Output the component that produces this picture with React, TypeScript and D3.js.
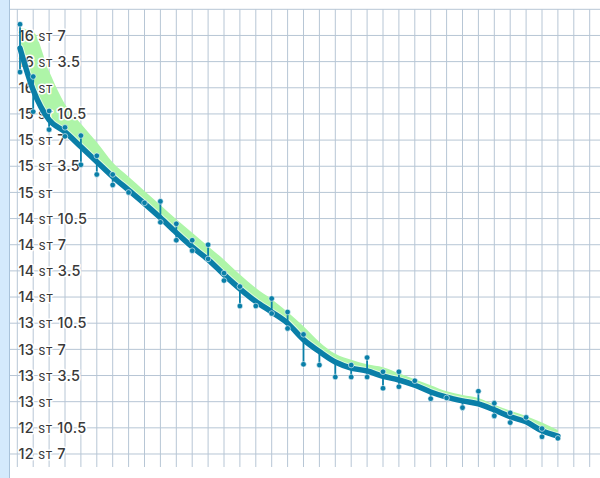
import React, { useEffect, useRef } from 'react';
import * as d3 from 'd3';

// day index (grid column) of each weigh-in day
const days = [0.17, 1, 2, 3, 4, 5, 6, 7, 8, 9, 10, 11, 12, 13, 14, 15, 16, 17, 18, 19, 20, 21, 22, 23, 24, 25, 26, 27, 28, 29, 30, 31, 32, 33, 34];

// smoothed trend weight (lb)
const trendLbs = [229.3, 223.7, 219.7, 218.1, 216.1, 214.1, 212.1, 210.3, 208.5, 206.6, 204.6, 202.7, 201.0, 199.0, 197.1, 195.4, 194.0, 192.5, 190.3, 188.7, 187.3, 186.5, 186.1, 185.4, 184.9, 184.2, 183.3, 182.6, 182.1, 181.7, 180.9, 180.0, 179.3, 178.1, 177.4];

// upper edge of the green band (lb)
const bandTopLbs = [232.0, 231.5, 226.2, 221.8, 219.2, 216.7, 214.0, 212.1, 210.2, 208.3, 206.4, 204.6, 202.8, 201.0, 199.0, 197.2, 195.7, 194.0, 192.1, 190.0, 188.4, 187.6, 187.0, 186.6, 185.8, 185.0, 184.2, 183.4, 182.9, 182.5, 181.6, 180.8, 180.1, 179.2, 178.2];

// weigh-ins (lb); second one is null when only one reading that day
const firstWeighIn = [232.5, 225.5, 220.9, 218.7, 217.6, 214.9, 212.4, 210.0, 208.6, 208.8, 205.8, 203.6, 203.0, 199.2, 197.4, 194.8, 195.8, 194.0, 191.0, 186.9, 185.3, 186.9, 187.9, 186.0, 186.0, 184.8, 182.4, 182.5, 181.2, 183.4, 181.8, 180.5, 179.9, 178.4, 177.1];
const secondWeighIn = [226.1, 220.8, 218.4, 217.5, 213.7, 212.4, 211.0, null, null, 206.0, 203.6, 202.2, 201.1, 198.2, 194.8, null, 193.8, 191.8, 187.0, null, null, 185.3, 185.3, 183.8, 184.0, null, null, null, null, null, 180.1, 179.2, null, 177.3, null];

// horizontal grid lines (lb), every 3.5 lb
const yTicks = [175, 178.5, 182, 185.5, 189, 192.5, 196, 199.5, 203, 206.5, 210, 213.5, 217, 220.5, 224, 227.5, 231, 234.5];
const yLabelled = [175, 178.5, 182, 185.5, 189, 192.5, 196, 199.5, 203, 206.5, 210, 213.5, 217, 220.5, 224, 227.5, 231];

const W = 600;
const H = 478;
const BLUE = '#0a7fa8';
const GRID = '#b7c6d5';

const App: React.FC = () => {
  const svgRef = useRef<SVGSVGElement>(null);

  useEffect(() => {
    if (!svgRef.current) return;
    const svg = d3.select(svgRef.current);
    svg.selectAll('*').remove();

    const x = d3.scaleLinear().domain([0, 36]).range([17.3, 589.7]);
    const y = d3.scaleLinear().domain([173.26, 234.5]).range([467, 9.3]);
    const top = y(234.5);
    const bottom = y(173.26);

    // left strip
    svg.append('rect').attr('x', 0).attr('y', 0).attr('width', 9.5).attr('height', H).attr('fill', '#d4eafc');
    svg.append('line').attr('x1', 9.5).attr('x2', 9.5).attr('y1', 0).attr('y2', H)
      .attr('stroke', '#a9c3da').attr('stroke-width', 1);

    // grid
    const grid = svg.append('g').attr('stroke', GRID).attr('stroke-width', 1);
    grid.selectAll('line.v')
      .data(d3.range(0, 37))
      .enter()
      .append('line')
      .attr('class', 'v')
      .attr('x1', d => x(d)).attr('x2', d => x(d))
      .attr('y1', top).attr('y2', bottom);
    grid.selectAll('line.h')
      .data(yTicks)
      .enter()
      .append('line')
      .attr('class', 'h')
      .attr('x1', 10).attr('x2', W)
      .attr('y1', d => y(d)).attr('y2', d => y(d));

    // green band between trend and upper edge
    const band = d3.area<number>()
      .x(i => x(days[i]))
      .y0(i => y(trendLbs[i]))
      .y1(i => y(bandTopLbs[i]))
      .curve(d3.curveMonotoneX);
    svg.append('path')
      .datum(d3.range(days.length))
      .attr('d', band)
      .attr('fill', '#aef5a8');

    // stone labels
    const labels = svg.append('g')
      .attr('font-family', 'Inter, "Open Sans", sans-serif')
      .attr('fill', '#3a3a3a')
      .attr('stroke', '#fff')
      .attr('stroke-width', 3)
      .attr('stroke-linejoin', 'round')
      .style('paint-order', 'stroke');
    yLabelled.forEach(lb => {
      const st = Math.floor(lb / 14);
      const rest = lb - st * 14;
      const t = labels.append('text')
        .attr('x', 18.5)
        .attr('y', y(lb))
        .attr('dy', '0.36em')
        .attr('font-size', 14.5)
        .attr('letter-spacing', 0.3)
        .attr('font-weight', 500);
      t.append('tspan').text(`${st} `);
      t.append('tspan').attr('font-size', 10.5).attr('letter-spacing', 0.6).text('ST');
      if (rest) t.append('tspan').text(` ${rest}`);
    });

    // trend line
    const line = d3.line<number>()
      .x(i => x(days[i]))
      .y(i => y(trendLbs[i]))
      .curve(d3.curveMonotoneX);
    svg.append('path')
      .datum(d3.range(days.length))
      .attr('d', line)
      .attr('fill', 'none')
      .attr('stroke', '#fff')
      .attr('stroke-opacity', 0.6)
      .attr('stroke-width', 7.5)
      .attr('stroke-linecap', 'round');
    svg.append('path')
      .datum(d3.range(days.length))
      .attr('d', line)
      .attr('fill', 'none')
      .attr('stroke', BLUE)
      .attr('stroke-width', 5.5)
      .attr('stroke-linecap', 'round');

    // weigh-ins with stems to the trend
    const readings: { i: number; lb: number }[] = [];
    days.forEach((_, i) => {
      readings.push({ i, lb: firstWeighIn[i] });
      const b = secondWeighIn[i];
      if (b !== null) readings.push({ i, lb: b });
    });

    svg.append('g')
      .selectAll('line')
      .data(readings)
      .enter()
      .append('line')
      .attr('x1', d => x(days[d.i])).attr('x2', d => x(days[d.i]))
      .attr('y1', d => y(d.lb)).attr('y2', d => y(trendLbs[d.i]))
      .attr('stroke', BLUE)
      .attr('stroke-width', 1.8);

    svg.append('g')
      .selectAll('circle')
      .data(readings)
      .enter()
      .append('circle')
      .attr('cx', d => x(days[d.i]))
      .attr('cy', d => y(d.lb))
      .attr('r', 2.8)
      .attr('fill', BLUE)
      .attr('stroke', '#fff')
      .attr('stroke-opacity', 0.7)
      .attr('stroke-width', 0.8);
  }, []);

  return (
    <div style={{ width: W, height: H, background: '#fff' }}>
      <style>{'body{margin:0}'}</style>
      <svg ref={svgRef} width={W} height={H} style={{ display: 'block' }}></svg>
    </div>
  );
};

export default App;
